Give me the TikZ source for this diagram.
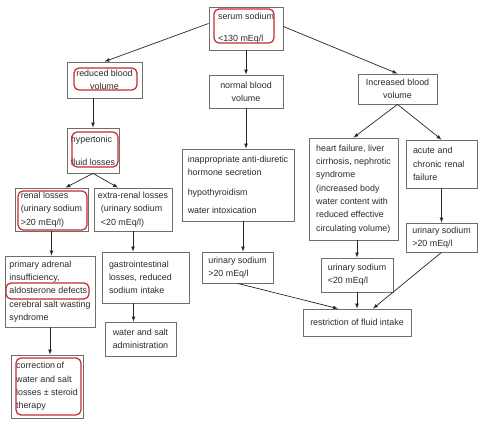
\documentclass[tikz,border=0pt]{standalone}
\usepackage{fontspec}
\setmainfont{Liberation Sans}
\usepackage{tikz}
\usetikzlibrary{positioning}
\usetikzlibrary{arrows}
\definecolor{boxgray}{HTML}{6E6E6E}
\definecolor{hlred}{HTML}{C62A32}
\definecolor{txtgray}{HTML}{2A2A2A}
\tikzset{
  box/.style = {draw = boxgray, line width = .8pt, fill = white, align = left, text = txtgray, font = \fontsize{8.9}{13.3}\selectfont},
  cbox/.style = {box, align = center},
  hl/.style = {draw = hlred, line width = 1.2pt, rounded corners = 5pt},
  arr/.style = {-latex, line width = .7pt, draw = black!85}
}
\begin{document}
\begin{tikzpicture}[x = 1pt, y = 1pt]
\useasboundingbox[fill = white] (0,0) rectangle (480,-422);
\node[box, minimum width = 74, minimum height = 43] (serum) at (246,-28.5) {serum sodium\\[9pt]<130 mEq/l};
\node[cbox, minimum width = 75, minimum height = 36] (reduced) at (104.5,-80) {reduced blood\\volume};
\node[cbox, minimum width = 74, minimum height = 33] (normal) at (246,-91.5) {normal blood\\volume};
\node[cbox, minimum width = 79, minimum height = 30] (increased) at (397.5,-89) {Increased blood\\volume};
\node[box, minimum width = 52, minimum height = 45] (hyper) at (93,-150.5) {hypertonic\\[10pt]fluid losses};
\node[box, minimum width = 73, minimum height = 43] (renal) at (51.5,-209.5) {renal losses\\(urinary sodium\\>20 mEq/l)};
\node[box, minimum width = 78, minimum height = 43] (extra) at (133,-209.5) {extra-renal losses\\\hspace{3pt}(urinary sodium\\\hspace{3pt}<20 mEq/l)};
\node[box, minimum width = 90, minimum height = 71] (primary) at (50,-291.5) {primary adrenal\\insufficiency,\\aldosterone defects\\cerebral salt wasting\\syndrome};
\node[box, minimum width = 87, minimum height = 51, text width = 73] (gastro) at (145.5,-277.5) {gastrointestinal\\losses, reduced\\sodium intake};
\node[cbox, minimum width = 71, minimum height = 34] (water) at (140.5,-339) {water and salt\\administration};
\node[box, minimum width = 72, minimum height = 63] (correct) at (47,-386.5) {correction\,of\\water and salt\\losses ± steroid\\therapy};
\node[box, minimum width = 112, minimum height = 72] (inapp) at (238,-185) {inappropriate anti-diuretic\\[-1pt]hormone secretion\\[7pt]hypothyroidism\\[5pt]water intoxication};
\node[box, minimum width = 89, minimum height = 102] (heart) at (353.5,-189) {heart failure, liver\\cirrhosis, nephrotic\\syndrome\\(increased body\\water content with\\reduced effective\\circulating volume)};
\node[box, minimum width = 71, minimum height = 48, text width = 57] (acute) at (441.5,-164) {acute and\\chronic renal\\failure};
\node[box, minimum width = 71, minimum height = 29] (uright) at (441.5,-237.5) {urinary sodium\\>20 mEq/l};
\node[box, minimum width = 71, minimum height = 31] (umid) at (237.5,-267.5) {urinary sodium\\>20 mEq/l};
\node[box, minimum width = 72, minimum height = 34] (uless) at (357,-275) {urinary sodium\\<20 mEq/l};
\node[cbox, minimum width = 108, minimum height = 27] (restr) at (357,-322.5) {restriction of fluid intake};

\draw[hl] (214,-9) rectangle (274,-43);
\draw[hl] (74,-68) rectangle (137,-90);
\draw[hl] (72,-132) rectangle (118,-167);
\draw[hl] (18,-191) rectangle (87,-230);
\draw[hl] (6,-283) rectangle (89,-299);
\draw[hl] (16,-358) rectangle (81,-415);

\draw[arr] ([yshift = 5]serum.west) -- (reduced.north);
\draw[arr] (serum.south) -- (normal.north);
\draw[arr] ([yshift = 2]serum.east) -- (increased.north);
\draw[arr] (hyper.north |- reduced.south) -- (hyper.north);
\draw[arr] (hyper.south) -- ([xshift = 14]renal.north);
\draw[arr] (hyper.south) -- ([xshift = -15]extra.north);
\draw[arr] (renal.south) -- (renal.south |- primary.north);
\draw[arr] (extra.south) -- (extra.south |- gastro.north);
\draw[arr] ([xshift = -7]water.north |- gastro.south) -- ([xshift = -7]water.north);
\draw[arr] (primary.south) -- (primary.south |- correct.north);
\draw[arr] (normal.south) -- (normal.south |- inapp.north);
\draw[arr] ([xshift = 5]inapp.south) -- ([xshift = 5]inapp.south |- umid.north);
\draw[arr] (increased.south) -- (heart.north);
\draw[arr] (increased.south) -- (acute.north);
\draw[arr] (uless.north |- heart.south) -- (uless.north);
\draw[arr] (acute.south) -- (uright.north);
\draw[arr] (uless.south) -- (restr.north);
\draw[arr] (umid.south) -- ([xshift = -19]restr.north);
\draw[arr] (uright.south) -- ([xshift = 16]restr.north);
\end{tikzpicture}
\end{document}
